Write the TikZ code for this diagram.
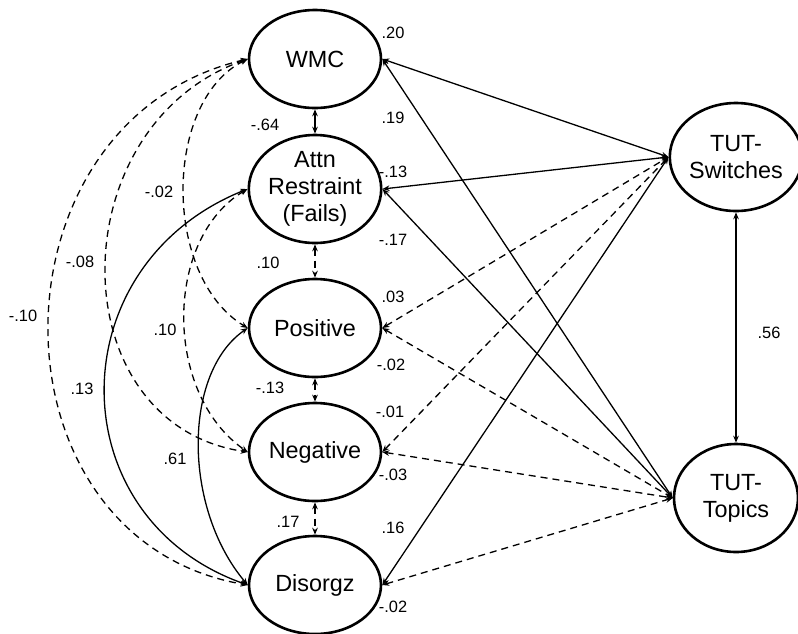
\documentclass[tikz,border=0pt]{standalone}
\usepackage{fontspec}
\setmainfont{Liberation Sans}
\usetikzlibrary{shapes.geometric,arrows.meta}
\begin{document}
\begin{tikzpicture}[x=0.5pt,y=-0.5pt,>={Stealth[length=3.5pt,width=2.8pt]},line join=round,
	lat/.style={ellipse,draw,line width=1.3pt,minimum width=66pt,minimum height=49pt,inner sep=0pt,align=center,font=\fontsize{11.7}{13.5}\selectfont},
	lbl/.style={font=\fontsize{8.2}{9.5}\selectfont,inner sep=0pt},
	cor/.style={<->,line width=0.65pt},
	ns/.style={cor,dash pattern=on 3.5pt off 2.5pt}]
	\useasboundingbox (0,0) rectangle (798,633);
	% bien tiem an
	\node[lat] (wmc) at (315,59) {WMC};
	\node[lat,minimum height=54pt] (attn) at (315,189) {Attn\\Restraint\\(Fails)};
	\node[lat] (pos) at (315,328) {Positive};
	\node[lat] (neg) at (315,452) {Negative};
	\node[lat] (dis) at (315,585) {Disorgz};
	\node[lat,minimum width=62pt,minimum height=54pt] (sw) at (736,157) {TUT-\\Switches};
	\node[lat,minimum width=62pt,minimum height=54pt] (tp) at (736,498) {TUT-\\Topics};
	% cot trai
	\draw[cor] (wmc) -- (attn);
	\draw[ns] (attn) -- (pos);
	\draw[ns] (pos) -- (neg);
	\draw[ns] (neg) -- (dis);
	\draw[ns] (wmc.west) .. controls +(-85,42) and +(-85,-51) .. (pos.west);
	\draw[ns] (wmc.west) .. controls +(-189,66) and +(-189,-28) .. (neg.west);
	\draw[ns] (wmc.west) .. controls +(-265,62) and +(-265,-45) .. (dis.west);
	\draw[ns] (attn.west) .. controls +(-84,50) and +(-84,-58) .. (neg.west);
	\draw[cor] (attn.west) .. controls +(-190,76) and +(-190,-67) .. (dis.west);
	\draw[cor] (pos.west) .. controls +(-65,45) and +(-65,-77) .. (dis.west);
	% sang phai
	\draw[cor] (wmc.east) -- (sw.west);
	\draw[cor] (wmc.east) -- (tp.west);
	\draw[cor] (attn.east) -- (sw.west);
	\draw[cor] (attn.east) -- (tp.west);
	\draw[ns] (pos.east) -- (sw.west);
	\draw[ns] (pos.east) -- (tp.west);
	\draw[ns] (neg.east) -- (sw.west);
	\draw[ns] (neg.east) -- (tp.west);
	\draw[cor] (dis.east) -- (sw.west);
	\draw[ns] (dis.east) -- (tp.west);
	\draw[cor] (sw) -- (tp);
	% he so
	\node[lbl] (l1) at (393,33) {.20};
	\node[lbl] (l2) at (393,118) {.19};
	\node[lbl] (l3) at (393,172) {-.13};
	\node[lbl] (l4) at (393,240) {-.17};
	\node[lbl] (l5) at (393,297) {.03};
	\node[lbl] (l6) at (391,365) {-.02};
	\node[lbl] (l7) at (390,412) {-.01};
	\node[lbl] (l8) at (393,475) {-.03};
	\node[lbl] (l9) at (393,528) {.16};
	\node[lbl] (l10) at (393,607) {-.02};
	\node[lbl] (l11) at (265,125) {-.64};
	\node[lbl] (l12) at (268,263) {.10};
	\node[lbl] (l13) at (270,388) {-.13};
	\node[lbl] (l14) at (288,522) {.17};
	\node[lbl] (l15) at (159,192) {-.02};
	\node[lbl] (l16) at (80,262) {-.08};
	\node[lbl] (l17) at (23,316) {-.10};
	\node[lbl] (l18) at (165,330) {.10};
	\node[lbl] (l19) at (82,389) {.13};
	\node[lbl] (l20) at (175,459) {.61};
	\node[lbl] (l21) at (769,333) {.56};
\end{tikzpicture}
\end{document}
